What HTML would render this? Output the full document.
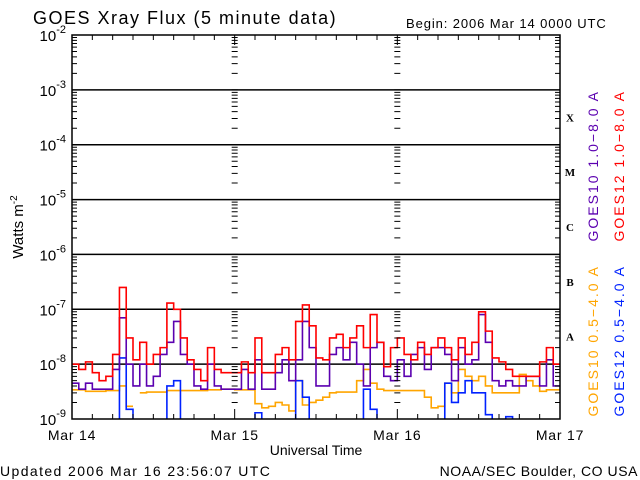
<!DOCTYPE html>
<html><head><meta charset="utf-8"><style>
body{margin:0;background:#fff;}
svg{display:block;font-family:"Liberation Sans",sans-serif;}
</style></head><body>
<svg id="chart" width="640" height="480">
<defs><clipPath id="pc"><rect x="72" y="35" width="488" height="384"/></clipPath></defs>
<text x="33" y="24" font-size="18" letter-spacing="1.5">GOES Xray Flux (5 minute data)</text>
<text x="406" y="28" font-size="13" letter-spacing="0.9">Begin:  2006 Mar 14 0000 UTC</text>
<text x="0" y="476" font-size="14" letter-spacing="1.4">Updated 2006 Mar 16 23:56:07 UTC</text>
<text x="638" y="476" font-size="14" letter-spacing="0.55" text-anchor="end">NOAA/SEC Boulder, CO USA</text>
<text x="316" y="455" font-size="14" text-anchor="middle">Universal Time</text>
<text transform="translate(23,227) rotate(-90)" font-size="15" text-anchor="middle">Watts m<tspan font-size="10" dy="-6">-2</tspan></text>
<g id="grid"></g><g id="series" clip-path="url(#pc)"></g><g id="axes"></g>
</svg>
<script>
const days = ["Mar 14","Mar 15","Mar 16","Mar 17"];
const decades = [-9,-8,-7,-6,-5,-4,-3,-2];
const classes = ["A","B","C","X","M"];
const classExp = [-7.5,-6.5,-5.5,-3.5,-4.5];
const redG12 = [1e-8,8e-9,1.1e-8,7e-9,5e-9,6e-9,1.5e-8,2.5e-7,3e-8,1.2e-8,2.5e-8,1e-8,1.5e-8,2e-8,1.3e-7,1e-7,3e-8,1.2e-8,8e-9,5e-9,2e-8,8e-9,7e-9,7e-9,
7e-9,1.1e-8,7e-9,3e-8,7e-9,7e-9,1.5e-8,2e-8,1.2e-8,6e-8,1.2e-7,5e-8,1.3e-8,1.2e-8,3e-8,3.5e-8,2e-8,3e-8,5e-8,2e-8,8e-8,2.5e-8,9e-9,2e-8,
3e-8,1.5e-8,1.2e-8,2.5e-8,1.5e-8,2e-8,3e-8,2e-8,1.2e-8,3e-8,1.5e-8,2.5e-8,9e-8,4e-8,1.3e-8,1.1e-8,8e-9,6e-9,6e-9,6e-9,6e-9,1.1e-8,2e-8,1e-8];
const purpleG10 = [4.5e-9,3.5e-9,4.5e-9,3.5e-9,3.5e-9,3.5e-9,8e-9,7e-8,1e-8,4e-9,1e-8,4e-9,6e-9,1.5e-8,2.5e-8,6e-8,1.5e-8,1e-8,4e-9,3.5e-9,1e-8,4e-9,3.5e-9,3.5e-9,
3.5e-9,8e-9,3.5e-9,1.2e-8,3.5e-9,3.5e-9,7e-9,1.2e-8,5e-9,1.2e-8,6e-8,2e-8,4e-9,4e-9,1.5e-8,2e-8,1.2e-8,2.5e-8,1e-8,4e-9,2e-8,2.5e-8,6e-9,5e-9,
1.2e-8,6e-9,1.5e-8,2e-8,8e-9,2e-8,2e-8,1.5e-8,5e-9,2e-8,1e-8,1.2e-8,8e-8,2.5e-8,5e-9,4e-9,5e-9,4e-9,4e-9,6e-9,6e-9,4e-9,1.2e-8,4e-9];
const orangeG10 = [3.4e-9,3.4e-9,3.2e-9,3.2e-9,3.2e-9,3.3e-9,3.3e-9,4e-9,1.7e-9,null,3e-9,3.1e-9,3.1e-9,3.1e-9,3.3e-9,3.3e-9,3.3e-9,3.3e-9,3.3e-9,3.3e-9,3.4e-9,3.4e-9,3.5e-9,3.5e-9,
3.4e-9,3.4e-9,3.4e-9,1.9e-9,1.6e-9,1.7e-9,2e-9,1.8e-9,1.4e-9,5e-9,1.8e-9,2e-9,2.2e-9,2.5e-9,3e-9,3.1e-9,3.1e-9,3.1e-9,5e-9,8e-9,4.5e-9,3.5e-9,3.3e-9,3.3e-9,
3.3e-9,3.3e-9,3.3e-9,3.3e-9,2.5e-9,1.6e-9,1.7e-9,4.5e-9,3e-9,8e-9,6e-9,5e-9,6e-9,4e-9,3e-9,3e-9,3e-9,3e-9,6.5e-9,5e-9,4e-9,3.2e-9,3.4e-9,3.4e-9];
const blueG12 = [5e-10,5e-10,5e-10,5e-10,5e-10,5e-10,5e-10,1.3e-8,1.5e-9,5e-10,5e-10,5e-10,5e-10,5e-10,4e-9,5e-9,5e-10,5e-10,5e-10,5e-10,5e-10,5e-10,5e-10,5e-10,
5e-10,5e-10,5e-10,1.3e-9,5e-10,5e-10,5e-10,5e-10,5e-10,5e-9,2.5e-9,5e-10,5e-10,5e-10,5e-10,5e-10,5e-10,5e-10,5e-10,3.5e-9,1.5e-9,5e-10,5e-10,5e-10,
5e-10,5e-10,5e-10,5e-10,5e-10,5e-10,5e-10,4.5e-9,2e-9,3e-9,5e-9,3e-9,3e-9,1.2e-9,5e-10,5e-10,1.1e-9,5e-10,5e-10,5e-10,5e-10,5e-10,5e-10,5e-10];

const X0=72,X1=560,Y0=419,Y1=35;
const hours=72;
function xs(h){return X0+(X1-X0)*h/hours;}
function ys(v){return Y0-(Math.log10(v)+9)*(Y0-Y1)/7;}
const NS="http://www.w3.org/2000/svg";
function mk(tag,attrs,parent){const e=document.createElementNS(NS,tag);for(const k in attrs)e.setAttribute(k,attrs[k]);parent.appendChild(e);return e;}
const grid=document.getElementById('grid'),axes=document.getElementById('axes'),ser=document.getElementById('series');

decades.forEach(d=>{
  if(d>-9&&d<-2){const l=mk('line',{x1:X0,x2:X1,y1:ys(Math.pow(10,d)),y2:ys(Math.pow(10,d)),stroke:'#000','stroke-width':1.5},grid);
  
  }
  const t=mk('text',{x:66,y:ys(Math.pow(10,d))+6,'font-size':15,'text-anchor':'end'},axes);
  
  
  t.innerHTML='10<tspan font-size="11" dy="-8">'+d+'</tspan>';
});
let tk='';
decades.forEach(d=>{
  if(d===-2)return;
  for(let m=2;m<=9;m++){const y=ys(m*Math.pow(10,d));
    tk+=`M${X0} ${y}h5M${X1} ${y}h-5M${xs(24)-3} ${y}h6M${xs(48)-3} ${y}h6`;}
  const y=ys(Math.pow(10,d));tk+=`M${xs(24)-3} ${y}h6M${xs(48)-3} ${y}h6`;
});
for(let h=3;h<hours;h+=3){const x=xs(h);const L=h%24===0?10:5;tk+=`M${x} ${Y1}v${L}M${x} ${Y0}v-${L}`;}
const ticks=mk('path',{d:tk,stroke:'#000','stroke-width':1,fill:'none'},axes);


const frame=mk('rect',{x:X0,y:Y1,width:X1-X0,height:Y0-Y1,fill:'none',stroke:'#000','stroke-width':1.5},axes);


days.forEach((d,i)=>{const t=mk('text',{x:xs(i*24),y:440,'font-size':14,'letter-spacing':0.8,'text-anchor':'middle'},axes);t.textContent=d;

});
classes.forEach((c,i)=>{const t=mk('text',{x:570,y:ys(Math.pow(10,classExp[i]))+4,'font-size':11,'font-weight':'bold','font-family':'Liberation Serif,serif','text-anchor':'middle'},axes);t.textContent=c;

});

function series(arr,color,name){
  let d='',pen=false;
  arr.forEach((v,h)=>{
    if(v==null){pen=false;return;}
    const y=ys(v);
    if(!pen){d+=`M${xs(h)} ${y}`;pen=true;}else d+=`V${y}`;
    d+=`H${xs(h+1)}`;
  });
  const p=mk('path',{d:d,stroke:color,'stroke-width':1.6,fill:'none'},ser);
  
  
}
series(orangeG10,'#ffa500','series-goes10-short');
series(blueG12,'#0022ff','series-goes12-short');
series(purpleG10,'#5b00b0','series-goes10-long');
series(redG12,'#ff0000','series-goes12-long');

const legends=[["GOES10 1.0−8.0 A",'#5b00b0',598,90],["GOES12 1.0−8.0 A",'#ff0000',624,90],["GOES10 0.5−4.0 A",'#ffa500',598,265],["GOES12 0.5−4.0 A",'#0022ff',624,265]];
legends.forEach(L=>{const t=mk('text',{transform:`translate(${L[2]},${L[3]}) rotate(-90)`,fill:L[1],'font-size':14,'letter-spacing':2,'text-anchor':'end'},axes);t.textContent=L[0];

});
</script>
</body></html>
